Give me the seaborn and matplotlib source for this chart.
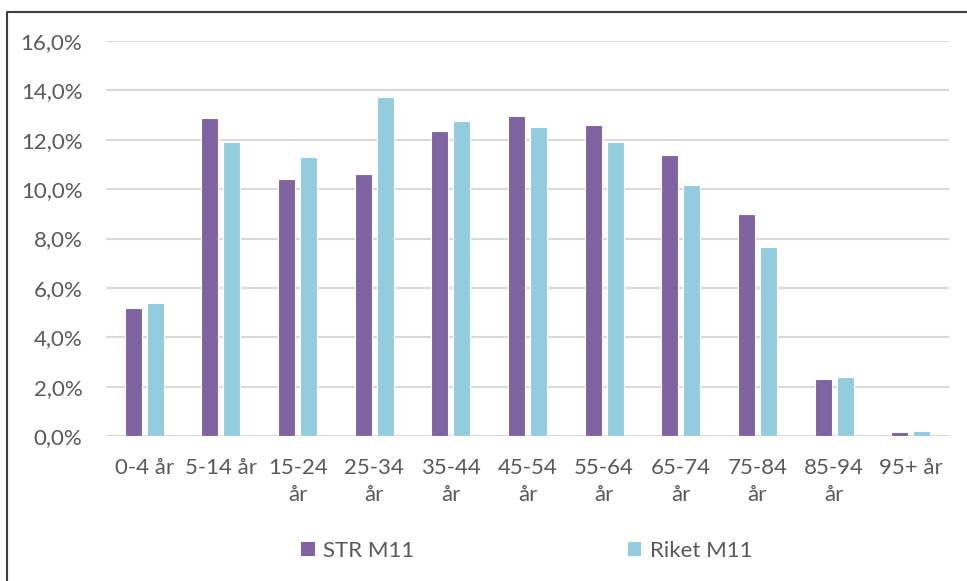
import numpy as np
import pandas as pd
import matplotlib
matplotlib.use("Agg")
import matplotlib.pyplot as plt
import matplotlib.ticker as ticker
from matplotlib.lines import Line2D
import seaborn as sns

# age groups (x labels, wrapped like the original)
groups = ["0-4 år", "5-14 år", "15-24\når", "25-34\når", "35-44\når", "45-54\når",
          "55-64\når", "65-74\når", "75-84\når", "85-94\når", "95+ år"]

# share of population in percent
str_m11 = [5.2, 12.9, 10.4, 10.6, 12.35, 12.95, 12.6, 11.4, 9.0, 2.3, 0.15]
riket_m11 = [5.4, 11.9, 11.3, 13.75, 12.75, 12.5, 11.9, 10.15, 7.67, 2.4, 0.2]

series_names = ["STR M11", "Riket M11"]
colors = ["#8064A2", "#93CDDD"]

df = pd.DataFrame({
    "grupp": groups * 2,
    "andel": str_m11 + riket_m11,
    "serie": [series_names[0]] * len(groups) + [series_names[1]] * len(groups),
})

sns.set_style("white")
plt.rcParams["font.family"] = ["Lato", "DejaVu Sans"]

fig = plt.figure(figsize=(9.67, 5.81), dpi=100)
ax = fig.add_axes([106 / 967, 1 - 436 / 581, (949 - 106) / 967, (436 - 41) / 581])

sns.barplot(data=df, x="grupp", y="andel", hue="serie", palette=colors, saturation=1,
            width=0.575, gap=0.23, edgecolor="white", linewidth=0.8,
            ax=ax, legend=False)

ax.set_ylim(0, 16)
ax.set_xlim(-0.5, len(groups) - 0.5)
ax.yaxis.set_major_locator(ticker.MultipleLocator(2))
ax.yaxis.set_major_formatter(ticker.FuncFormatter(lambda v, p: f"{v:.1f}%".replace(".", ",")))
ax.grid(axis="y", color="#d9d9d9", linewidth=1.5)
ax.set_axisbelow(True)
for s in ax.spines.values():
    s.set_visible(False)
ax.tick_params(axis="both", length=0, labelsize=16, colors="#595959")
ax.tick_params(axis="y", pad=17)
ax.tick_params(axis="x", pad=16)
ax.set_xlabel("")
ax.set_ylabel("")
for lbl in ax.get_xticklabels():
    lbl.set_linespacing(1.45)
    lbl.set_verticalalignment("top")

handles = [plt.Rectangle((0, 0), 1, 1, facecolor=c, edgecolor="none") for c in colors]
fig.legend(handles, series_names, loc="center", bbox_to_anchor=(527 / 967, 1 - 551 / 581),
           ncol=2, frameon=False, fontsize=16, labelcolor="#595959",
           handlelength=0.6, handleheight=0.6, handletextpad=0.4, columnspacing=9.6)

# frame line along the top and left edge
fig.add_artist(Line2D([7 / 967, 7 / 967, 1], [0, 1 - 12 / 581, 1 - 12 / 581],
                      transform=fig.transFigure, color="#404040", linewidth=1.5))

fig.savefig("out.png", dpi=100)
